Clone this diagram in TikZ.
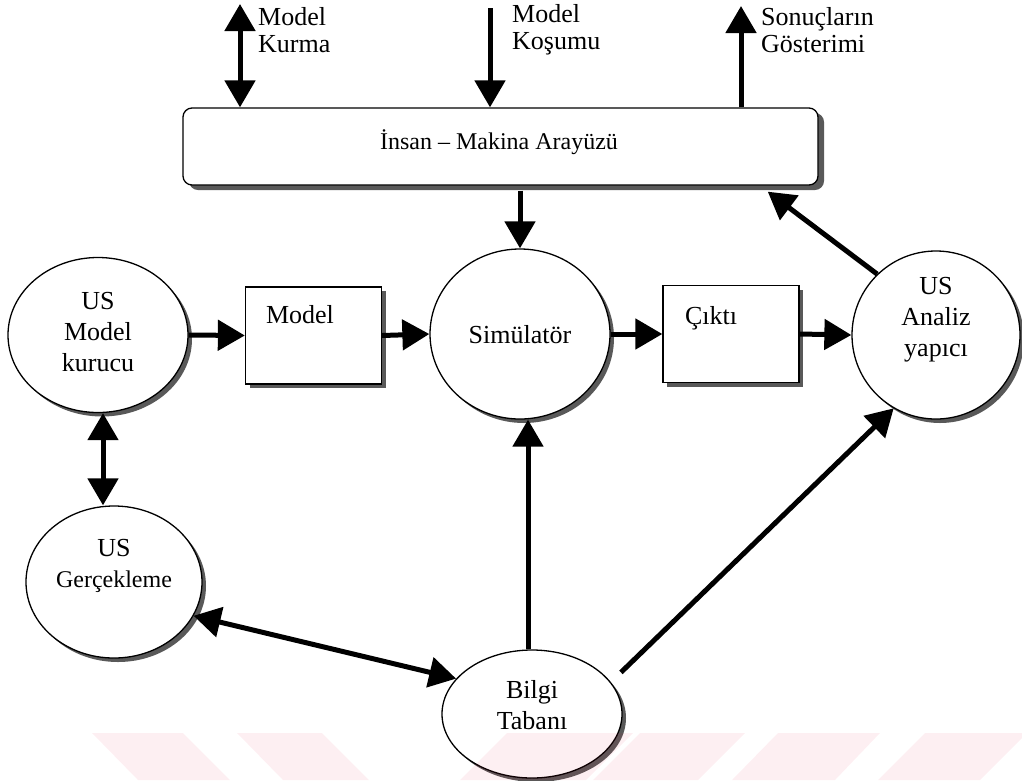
\documentclass[tikz,border=0pt]{standalone}
\usepackage{fontspec}
\setmainfont{Liberation Serif}
\usetikzlibrary{arrows.meta,shapes.geometric,shadows,calc}

\tikzset{
  shade/.style={drop shadow={shadow xshift=4pt,shadow yshift=-4pt,fill=black!65,opacity=1}},
  proc/.style={ellipse,draw,line width=1.3pt,fill=white,inner sep=0pt,shade},
  store/.style={rectangle,draw,line width=1.3pt,fill=white,inner sep=0pt,
    minimum width=136pt,minimum height=97pt,shade},
  lbl/.style={font=\fontsize{26}{31}\selectfont,align=center,inner sep=0pt},
  side/.style={font=\fontsize{26}{27}\selectfont,align=left,inner sep=0pt,anchor=west},
  flow/.style={line width=5pt,-{Triangle[length=27pt,width=30pt]}},
  twoway/.style={line width=5pt,{Triangle[length=27pt,width=30pt]}-{Triangle[length=27pt,width=30pt]}},
  wmark/.style={fill={rgb,255:red,230;green,20;blue,60},fill opacity=0.065,draw=none},
}

\begin{document}
\begin{tikzpicture}[x=1pt,y=-1pt]
\useasboundingbox (0,0) rectangle (1022,780);

% interface bar
\node[rectangle,rounded corners=9pt,draw,line width=1.3pt,fill=white,inner sep=0pt,
      minimum width=635pt,minimum height=77pt,
      drop shadow={shadow xshift=6pt,shadow yshift=-5pt,fill=black!65,opacity=1}]
      (hmi) at (500.5,146.5) {};
\node[lbl,font=\fontsize{24}{28}\selectfont] (thmi) at (499,142) {İnsan – Makina Arayüzü};

% processes and stores
\node[proc,minimum width=180pt,minimum height=155pt] (kur) at (98,335) {};
\node[store] (mod) at (313.5,335.5) {};
\node[proc,minimum width=180pt,minimum height=170pt] (sim) at (520,334) {};
\node[store] (cik) at (731,334) {};
\node[proc,minimum width=168pt,minimum height=168pt] (ana) at (936,335) {};
\node[proc,minimum width=176pt,minimum height=152pt] (ger) at (114,582) {};
\node[proc,minimum width=180pt,minimum height=128pt] (bil) at (532,714) {};

% labels
\node[lbl] (tkur) at (98,332) {US\\Model\\kurucu};
\node[lbl] (tmod) at (300,315) {Model};
\node[lbl] (tsim) at (520,335) {Simülatör};
\node[lbl] (tcik) at (711,318) {Çıktı};
\node[lbl] (tana) at (936,320) {US\\Analiz\\yapıcı};
\node[lbl] (tger) at (114,566) {US\\{\fontsize{24}{30}\selectfont Gerçekleme}};
\node[lbl] (tbil) at (532,705) {Bilgi\\Tabanı};

\node[side] (lkur) at (258,30) {Model\\Kurma};
\node[side] (lkos) at (512,30) {Model\\Koşumu};
\node[side] (lson) at (761,30) {Sonuçların\\Gösterimi};

% user-side connectors
\coordinate (kt) at (240,4);
\coordinate (kst) at (490,8);
\coordinate (st) at (741,6);
\draw[twoway] (kt) -- (hmi.north -| kt);
\draw[flow] (kst) -- (hmi.north -| kst);
\draw[flow] (hmi.north -| st) -- (st);

% data flow
\draw[flow] ($(hmi.south -| sim.north)+(0,5)$) -- (sim.north);
\draw[flow] (ana.134) -- ($(hmi.south west)!0.92!(hmi.south east)+(0,6)$);
\draw[flow] (kur.east) -- (mod.west);
\draw[flow] (mod.east) -- (sim.west);
\draw[flow] (sim.east) -- (cik.west);
\draw[flow] (cik.east) -- (ana.west);
\draw[twoway] ($(kur.south)+(5,0)$) -- ($(ger.north)+(-11,0)$);
\draw[twoway] (ger.-23) -- (bil.155);
\draw[flow] ($(bil.north)+(-4,0)$) -- ($(bil.north |- sim.south)+(-4,0)$);
\draw[flow,shorten <=14pt] (bil.22) -- (ana.240);

% faint band pattern along the bottom edge
\fill[wmark] (92,733) -- (183,733) -- (230,780) -- (138,780) -- cycle;
\fill[wmark] (237,733) -- (322,733) -- (369,780) -- (283,780) -- cycle;
\fill[wmark] (507,733) -- (633,733) -- (586,780) -- (460,780) -- cycle;
\fill[wmark] (640,733) -- (745,733) -- (698,780) -- (593,780) -- cycle;
\fill[wmark] (778,733) -- (880,733) -- (835,780) -- (732,780) -- cycle;
\fill[wmark] (925,733) -- (1022,733) -- (1022,738) -- (980,780) -- (878,780) -- cycle;
\end{tikzpicture}
\end{document}
